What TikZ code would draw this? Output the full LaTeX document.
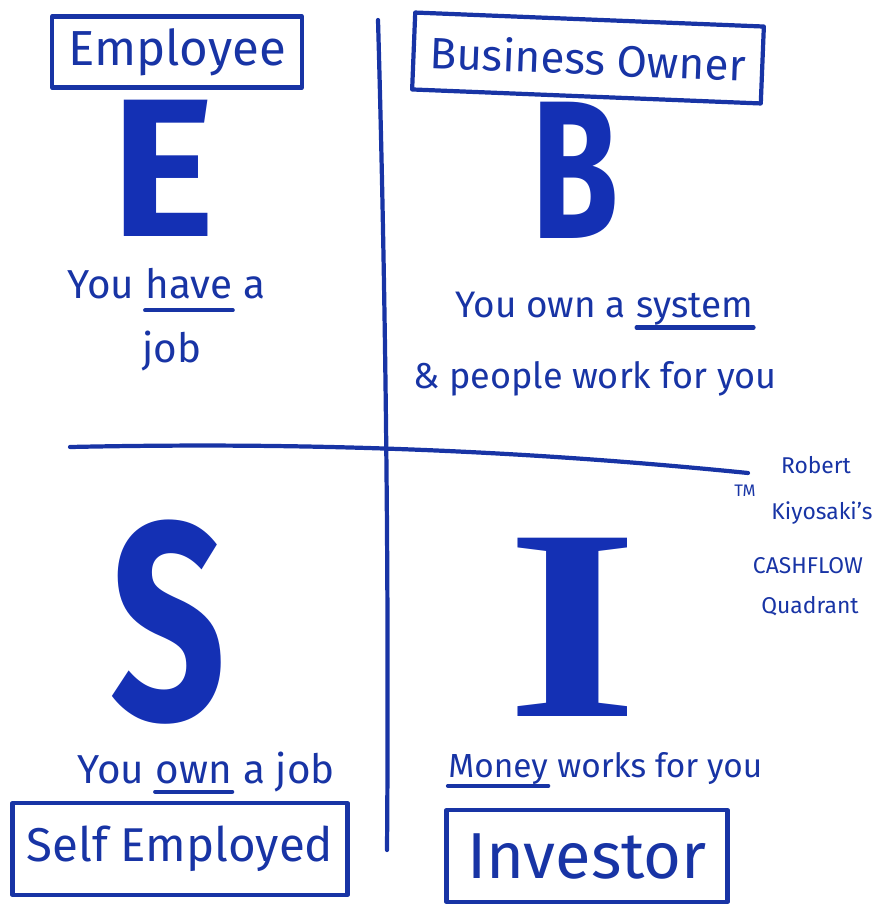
\documentclass[tikz,border=0pt]{standalone}
\usepackage{fontspec}
\setmainfont{Fira Sans}
\newfontfamily\narrowsans[FakeStretch=0.72]{Fira Sans}
\newfontfamily\bigserif[FakeStretch=1.25]{Liberation Serif}
\usetikzlibrary{positioning}

\definecolor{penblue}{RGB}{24,52,165}
\definecolor{fillblue}{RGB}{20,48,180}

\tikzset{
  pen/.style={draw=penblue, line width=2.4pt, line cap=round, line join=round},
  labelbox/.style={pen, text=penblue, inner sep=0pt, font=\fontsize{27}{27}\selectfont},
  bigletter/.style={text=fillblue, inner sep=0pt, font=\bfseries\fontsize{112}{112}\selectfont},
  note/.style={text=penblue, inner sep=0pt, anchor=base west, font=\fontsize{23}{23}\selectfont},
  smallnote/.style={text=penblue, inner sep=0pt, font=\fontsize{13}{13}\selectfont},
}

\begin{document}
\begin{tikzpicture}[x=0.02cm, y=-0.02cm]
    \useasboundingbox (0,0) rectangle (874,906);

    % the two quadrant lines
    \draw[pen] (378,20) .. controls (386,300) and (389,600) .. (387,850);
    \draw[pen] (70,447) .. controls (260,443) and (480,446) .. (748,473);

    % boxed names
    \node[labelbox, minimum width=5cm, minimum height=1.42cm, font=\fontsize{28}{28}\selectfont] (employee) at (177,52) {Employee};
    \node[labelbox, minimum width=6.98cm, minimum height=1.54cm, rotate=-2.3, font=\fontsize{25}{25}\selectfont] (owner) at (588,58) {Business Owner};
    \node[labelbox, minimum width=6.7cm, minimum height=1.84cm] (selfemp) at (180,849) {Self Employed};
    \node[labelbox, minimum width=5.62cm, minimum height=1.84cm, font=\fontsize{37}{37}\selectfont] (investor) at (587,856) {Investor};

    % the four letters
    \node[bigletter] (bigE) at (163,168) {E};
    \node[bigletter, font=\narrowsans\bfseries\fontsize{112}{112}\selectfont] (bigB) at (575,170) {B};
    \node[bigletter, font=\narrowsans\bfseries\fontsize{160}{160}\selectfont] (bigS) at (168,622) {S};
    \node[bigletter, font=\bigserif\bfseries\fontsize{155}{155}\selectfont] (bigI) at (573,627) {I};

    % what each one means
    \node[note] (eyou) at (67,298) {You};
    \node[note, base right=6pt of eyou] (ehave) {have};
    \node[note, base right=6pt of ehave] (ea) {a};
    \node[note] (ejob) at (142,362) {job};
    \draw[pen] ([yshift=-7pt]ehave.base west) -- ([yshift=-7pt]ehave.base east);

    \node[note, font=\fontsize{21}{21}\selectfont] (bown) at (455,317) {You own a};
    \node[note, font=\fontsize{21}{21}\selectfont, base right=6pt of bown] (bsystem) {system};
    \node[note, font=\fontsize{20.5}{20.5}\selectfont] (bpeople) at (413,388) {\& people work for you};
    \draw[pen] ([yshift=-6pt]bsystem.base west) -- ([yshift=-6pt]bsystem.base east);

    \node[note] (syou) at (77,783) {You};
    \node[note, base right=6pt of syou] (sown) {own};
    \node[note, base right=6pt of sown] (sjob) {a job};
    \draw[pen] ([yshift=-5pt]sown.base west) -- ([yshift=-5pt]sown.base east);

    \node[note, font=\fontsize{19}{19}\selectfont] (imoney) at (448,777) {Money};
    \node[note, font=\fontsize{19}{19}\selectfont, base right=5pt of imoney] (iworks) {works for you};
    \draw[pen] ([yshift=-5pt]imoney.base west) -- ([yshift=-5pt]imoney.base east);

    % side note
    \node[smallnote] (robert) at (816,465) {Robert};
    \node[smallnote, font=\fontsize{9.5}{9.5}\selectfont] (tm) at (745,491) {TM};
    \node[smallnote] (kiyosaki) at (822,513) {Kiyosaki's};
    \node[smallnote] (cashflow) at (808,566) {CASHFLOW};
    \node[smallnote] (quadrant) at (810,606) {Quadrant};
\end{tikzpicture}
\end{document}
